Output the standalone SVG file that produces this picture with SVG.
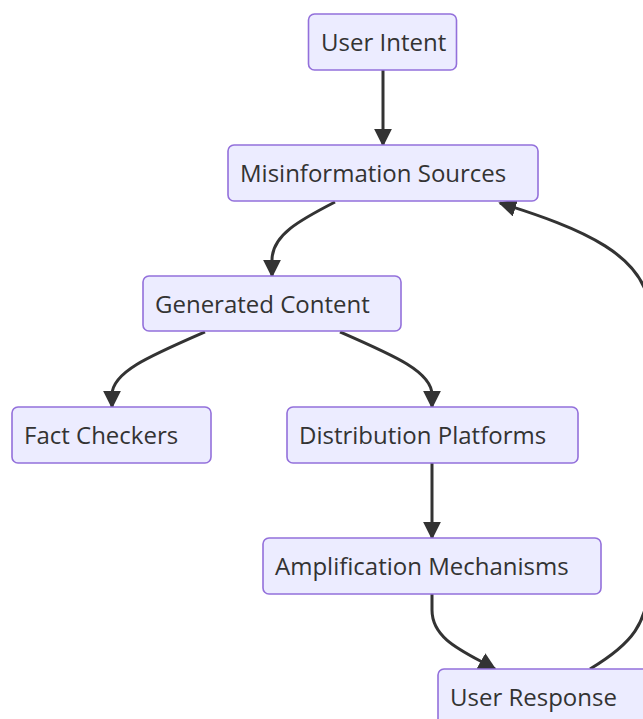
<svg xmlns="http://www.w3.org/2000/svg" width="643" height="719" viewBox="0 0 643 719">
<defs>
<style>
.node rect{fill:#ECECFF;stroke:#9370DB;stroke-width:1.6}
.node text{font-family:"Open Sans","Noto Sans",sans-serif;font-size:24px;fill:#333333;dominant-baseline:central}
.edge{fill:none;stroke:#333333;stroke-width:3}
</style>
<marker id="arrow" viewBox="0 0 10 10" refX="9" refY="5" markerUnits="userSpaceOnUse" markerWidth="18" markerHeight="18" orient="auto">
<path d="M0,0 L10,5 L0,10 z" fill="#333333"/>
</marker>
</defs>
<rect width="643" height="719" fill="#ffffff"/>
<g id="connectors">
<path class="edge" d="M383,70 L383,145" marker-end="url(#arrow)"/>
<path class="edge" d="M335,202 C300,220 272,235 272,260 L272,276" marker-end="url(#arrow)"/>
<path class="edge" d="M205,332 C150,356 112,372 112,395 L112,407" marker-end="url(#arrow)"/>
<path class="edge" d="M340,332 C395,356 432,372 432,395 L432,407" marker-end="url(#arrow)"/>
<path class="edge" d="M432,463 L432,538" marker-end="url(#arrow)"/>
<path class="edge" d="M432,594 L432,610 C432,640 465,652 495,669" marker-end="url(#arrow)"/>
<path class="edge" d="M590,669 C630,645 650,625 650,570 L650,315 C650,255 580,228 500,203" marker-end="url(#arrow)"/>
</g>
<g id="user-intent" class="node"><rect x="308.5" y="14" width="148" height="56" rx="6"/><text x="321" y="41">User Intent</text></g>
<g id="misinformation-sources" class="node"><rect x="228" y="145" width="310" height="56" rx="6"/><text x="240" y="172">Misinformation Sources</text></g>
<g id="generated-content" class="node"><rect x="143" y="276" width="258" height="55" rx="6"/><text x="155" y="303">Generated Content</text></g>
<g id="fact-checkers" class="node"><rect x="12" y="407" width="199" height="56" rx="6"/><text x="24" y="434">Fact Checkers</text></g>
<g id="distribution-platforms" class="node"><rect x="287" y="407" width="291" height="56" rx="6"/><text x="299" y="434">Distribution Platforms</text></g>
<g id="amplification-mechanisms" class="node"><rect x="263" y="538" width="338" height="56" rx="6"/><text x="275" y="565">Amplification Mechanisms</text></g>
<g id="user-response" class="node"><rect x="438" y="669" width="222" height="56" rx="6"/><text x="450" y="696">User Response</text></g>
</svg>
